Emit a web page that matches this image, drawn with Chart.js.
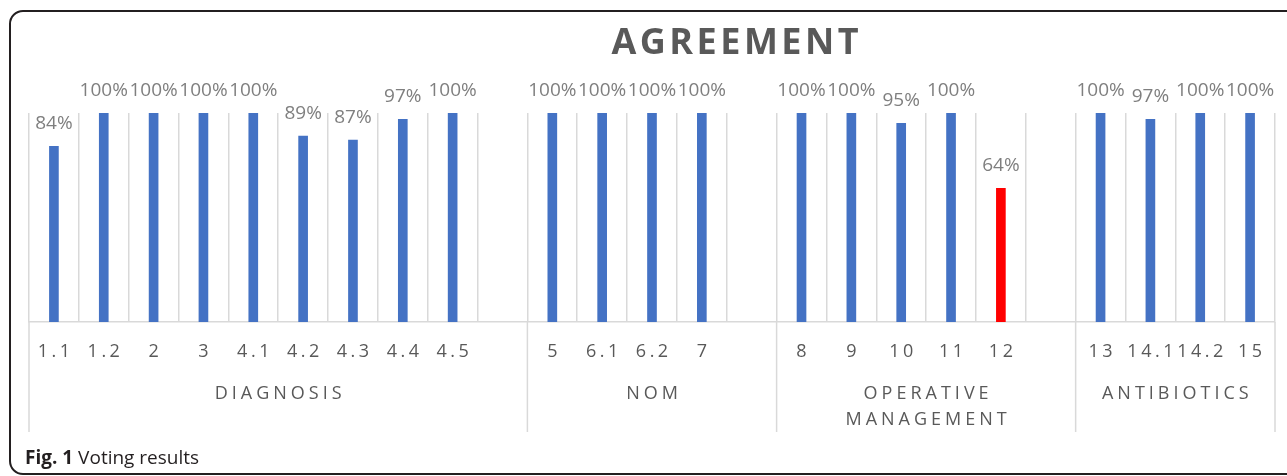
<!DOCTYPE html>
<html>
<head>
<meta charset="utf-8">
<script src="https://cdn.jsdelivr.net/npm/chart.js@4.4.0/dist/chart.umd.min.js"></script>
<style>
  html, body { margin: 0; padding: 0; background: #fff; }
  #wrap { position: relative; width: 1287px; height: 476px; overflow: hidden; }
  #frame { position: absolute; left: 9px; top: 10px; width: 1300px; height: 465px;
           border: 2px solid #231f20; border-radius: 14px; box-sizing: border-box; }
  #chart { position: absolute; left: 0; top: 0; }
  #caption { position: absolute; left: 25px; top: 444px; font-family: "Open Sans", sans-serif;
             font-size: 19px; color: #231f20; }
</style>
</head>
<body>
<div id="wrap">
  <div id="frame"></div>
  <canvas id="chart" width="1287" height="476"></canvas>
  <div id="caption"><b>Fig. 1</b> Voting results</div>
</div>
<script>
// dados do grafico
var titulo = 'AGREEMENT';
var categorias = ['1.1','1.2','2','3','4.1','4.2','4.3','4.4','4.5','',
                  '5','6.1','6.2','7','',
                  '8','9','10','11','12','',
                  '13','14.1','14.2','15'];
var valores = [84,100,100,100,100,89,87,97,100,null,
               100,100,100,100,null,
               100,100,95,100,64,null,
               100,97,100,100];
var grupos = [['DIAGNOSIS'], ['NOM'], ['OPERATIVE','MANAGEMENT'], ['ANTIBIOTICS']];
var tamanhoGrupos = [10, 5, 6, 4];
var destaque = ['12'];

var cores = [];
for (var i = 0; i < categorias.length; i++) {
	cores[i] = destaque.indexOf(categorias[i]) >= 0 ? '#ff0000' : '#4472c4';
}

function textoEspacado(ctx, t, cx, y, ls){
	ctx.letterSpacing = ls + 'px';
	var w = ctx.measureText(t).width;
	ctx.textAlign = 'left';
	ctx.fillText(t, cx - (w - ls) / 2, y);
	ctx.letterSpacing = '0px';
}

var extras = {
	id: 'extras',
	afterDraw: function(chart){
		var ctx = chart.ctx;
		var x = chart.scales.x, y = chart.scales.y;
		var area = chart.chartArea;
		var meio = (x.getPixelForValue(1) - x.getPixelForValue(0)) / 2;
		ctx.save();
		ctx.textBaseline = 'alphabetic';

		// titulo
		ctx.fillStyle = '#595959';
		ctx.font = 'bold 36px "Open Sans"';
		textoEspacado(ctx, titulo, 735, 54, 3.5);

		// rotulos das barras
		ctx.font = '19px "Open Sans"';
		ctx.fillStyle = '#7f7f7f';
		for (var i = 0; i < valores.length; i++) {
			if (valores[i] === null) continue;
			textoEspacado(ctx, valores[i] + '%', x.getPixelForValue(i), y.getPixelForValue(valores[i]) - 17, 0);
		}

		// categorias
		ctx.fillStyle = '#595959';
		ctx.font = '18px "Open Sans"';
		for (var i = 0; i < categorias.length; i++) {
			if (categorias[i] === '') continue;
			textoEspacado(ctx, categorias[i], x.getPixelForValue(i), 357, 3.5);
		}

		// grupos e separadores
		ctx.strokeStyle = '#d9d9d9';
		ctx.lineWidth = 1.5;
		var inicio = 0;
		var bordas = [x.getPixelForValue(0) - meio];
		for (var g = 0; g < grupos.length; g++) {
			var fim = inicio + tamanhoGrupos[g] - 1;
			var xa = x.getPixelForValue(inicio) - meio;
			var xb = x.getPixelForValue(fim) + meio;
			bordas.push(xb);
			ctx.font = '18px "Open Sans"';
			for (var l = 0; l < grupos[g].length; l++) {
				textoEspacado(ctx, grupos[g][l], (xa + xb) / 2, 399 + l * 26, 4);
			}
			inicio = fim + 1;
		}
		for (var b = 0; b < bordas.length; b++) {
			ctx.beginPath();
			ctx.moveTo(bordas[b], area.bottom);
			ctx.lineTo(bordas[b], 432);
			ctx.stroke();
		}
		ctx.restore();
	}
};

var grafico = new Chart(document.getElementById('chart'), {
	type: 'bar',
	data: {
		labels: categorias,
		datasets: [{
			data: valores,
			backgroundColor: cores,
			barThickness: 9
		}]
	},
	options: {
		responsive: false,
		animation: false,
		layout: { padding: { left: 29, right: 12, top: 113, bottom: 154 } },
		plugins: { legend: { display: false }, tooltip: { enabled: false } },
		scales: {
			x: {
				ticks: { display: false },
				grid: { color: '#d9d9d9', lineWidth: 1.5, drawTicks: false, offset: true },
				border: { color: '#d9d9d9', width: 1.5 }
			},
			y: { display: false, min: 0, max: 100 }
		}
	},
	plugins: [extras]
});
</script>
</body>
</html>
